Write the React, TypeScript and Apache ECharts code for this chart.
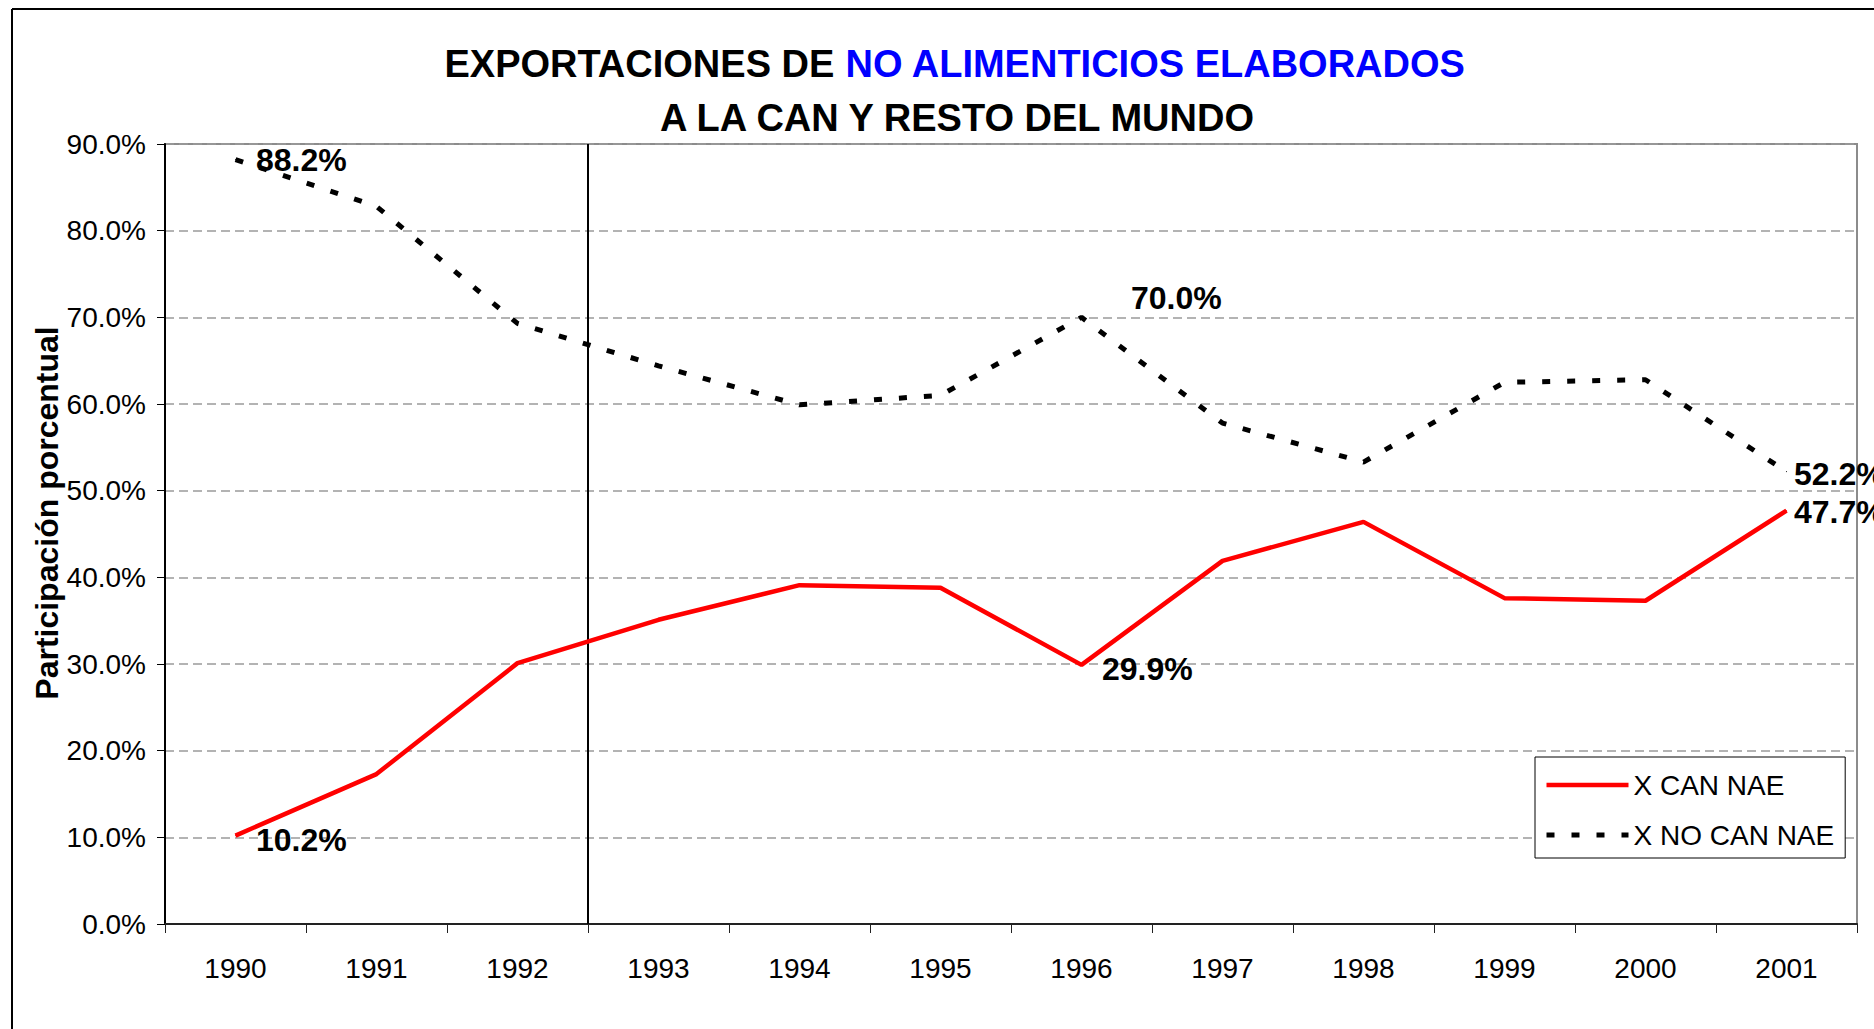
import React, { useEffect, useRef } from "react";
import * as echarts from "echarts";

const years = ["1990", "1991", "1992", "1993", "1994", "1995", "1996", "1997", "1998", "1999", "2000", "2001"];
const canNae = [10.2, 17.3, 30.1, 35.1, 39.1, 38.8, 29.9, 41.9, 46.4, 37.6, 37.3, 47.7];
const noCanNae = [88.2, 82.8, 69.3, 64.4, 59.9, 61.0, 70.0, 57.8, 53.3, 62.5, 62.8, 52.2];
const seriesNames = ["X CAN NAE", "X NO CAN NAE"];
const titleLine1a = "EXPORTACIONES DE ";
const titleLine1b = "NO ALIMENTICIOS ELABORADOS";
const titleLine2 = "A LA CAN Y RESTO DEL MUNDO";
const yAxisTitle = "Participación porcentual";
const yMin = 0;
const yMax = 90;
const yStep = 10;
// boundary (in category units) where the vertical divider is drawn: between 1992 and 1993
const dividerAt = 3;

const FONT = "'Liberation Sans', Arial, Helvetica, sans-serif";

const labelBase = {
  show: true,
  position: "right",
  fontFamily: FONT,
  fontSize: 32,
  fontWeight: "bold",
  color: "#000",
  formatter: (p: any) => Number(p.value).toFixed(1) + "%",
};

const canLabels: Record<number, any> = {
  0: { distance: 20, offset: [0, 4] },
  6: { distance: 20, offset: [0, 4] },
  11: { distance: 7, offset: [0, 1] },
};
const noCanLabels: Record<number, any> = {
  0: { distance: 20, offset: [0, 0] },
  6: { distance: 20, offset: [29, -19] },
  11: { distance: 7, offset: [0, 2] },
};

function withLabels(values: number[], labels: Record<number, any>) {
  return values.map((v, i) =>
    labels[i]
      ? { value: v, symbol: "circle", symbolSize: 1, label: { ...labelBase, ...labels[i] } }
      : { value: v }
  );
}

export default function App() {
  const ref = useRef<HTMLDivElement>(null);

  useEffect(() => {
    if (!ref.current) return;
    const chart = echarts.init(ref.current, null, { renderer: "svg" });
    const hiddenSymbol = { color: "rgba(0,0,0,0)", borderColor: "rgba(0,0,0,0)", borderWidth: 0, opacity: 0 };
    const option: any = {
      animation: false,
      backgroundColor: "#ffffff",
      textStyle: { fontFamily: FONT },
      grid: {
        left: 165,
        right: 17,
        top: 144,
        bottom: 105,
        containLabel: false,
        outerBoundsMode: "none",
        show: true,
        borderColor: "#8c8c8c",
        borderWidth: 2,
        backgroundColor: "transparent",
      },
      legend: {
        data: [
          { name: seriesNames[0], itemStyle: hiddenSymbol, lineStyle: { color: "#ff0000", width: 4.5, type: "solid" } },
          { name: seriesNames[1], itemStyle: hiddenSymbol, lineStyle: { color: "#000", width: 5, type: [8, 17] } },
        ],
        orient: "vertical",
        left: 1535,
        top: 757,
        padding: [14, 11, 9, 9],
        itemGap: 22,
        itemWidth: 82,
        itemHeight: 28,
        backgroundColor: "#ffffff",
        borderColor: "#000000",
        borderWidth: 1,
        borderRadius: 0,
        itemStyle: hiddenSymbol,
        textStyle: { fontFamily: FONT, fontSize: 28, color: "#000", lineHeight: 28 },
      },
      xAxis: [
        {
          type: "category",
          data: years,
          boundaryGap: true,
          axisLine: { show: true, lineStyle: { color: "#222", width: 2 } },
          axisTick: { show: true, alignWithLabel: false, length: 9, lineStyle: { color: "#222", width: 1 } },
          axisLabel: { fontFamily: FONT, fontSize: 28, color: "#000", margin: 30 },
          splitLine: { show: false },
        },
        {
          type: "value",
          min: 0,
          max: years.length,
          show: false,
          gridIndex: 0,
        },
      ],
      yAxis: {
        type: "value",
        min: yMin,
        max: yMax,
        interval: yStep,
        axisLine: { show: true, lineStyle: { color: "#000", width: 2 } },
        axisTick: { show: true, length: 8, lineStyle: { color: "#000", width: 1 } },
        axisLabel: {
          fontFamily: FONT,
          fontSize: 28,
          color: "#000",
          margin: 19,
          formatter: (v: number) => v.toFixed(1) + "%",
        },
        splitLine: { show: true, lineStyle: { color: "#9a9a9a", width: 1.5, type: [9, 5] } },
      },
      series: [
        {
          name: "divider",
          type: "line",
          xAxisIndex: 1,
          yAxisIndex: 0,
          data: [
            [dividerAt, yMin],
            [dividerAt, yMax],
          ],
          symbol: "none",
          silent: true,
          lineStyle: { color: "#000", width: 2 },
          z: 1,
        },
        {
          name: seriesNames[0],
          type: "line",
          data: withLabels(canNae, canLabels),
          symbol: "none",
          showSymbol: true,
          lineStyle: { color: "#ff0000", width: 4.5 },
          itemStyle: { color: "#ff0000" },
          z: 3,
        },
        {
          name: seriesNames[1],
          type: "line",
          data: withLabels(noCanNae, noCanLabels),
          symbol: "none",
          showSymbol: true,
          lineStyle: { color: "#000", width: 5, type: [8, 17], cap: "butt" },
          itemStyle: { color: "#000" },
          z: 3,
        },
      ],
      graphic: [
        {
          type: "line",
          shape: { x1: 12, y1: 9, x2: 1874, y2: 9 },
          style: { stroke: "#000", lineWidth: 2 },
        },
        {
          type: "line",
          shape: { x1: 12, y1: 9, x2: 12, y2: 1029 },
          style: { stroke: "#000", lineWidth: 2 },
        },
        {
          type: "text",
          x: 955,
          y: 64,
          style: {
            text: "{a|" + titleLine1a + "}{b|" + titleLine1b + "}",
            align: "center",
            verticalAlign: "middle",
            rich: {
              a: { fontFamily: FONT, fontSize: 38, fontWeight: "bold", fill: "#000" },
              b: { fontFamily: FONT, fontSize: 38, fontWeight: "bold", fill: "#0000ff" },
            },
          },
        },
        {
          type: "text",
          x: 957,
          y: 118,
          style: {
            text: titleLine2,
            align: "center",
            verticalAlign: "middle",
            fontFamily: FONT,
            fontSize: 38,
            fontWeight: "bold",
            fill: "#000",
          },
        },
        {
          type: "text",
          x: 47,
          y: 513,
          rotation: Math.PI / 2,
          style: {
            text: yAxisTitle,
            align: "center",
            verticalAlign: "middle",
            fontFamily: FONT,
            fontSize: 32,
            fontWeight: "bold",
            fill: "#000",
          },
        },
      ],
    };
    chart.setOption(option);
    return () => {
      chart.dispose();
    };
  }, []);

  return (
    <div
      ref={ref}
      style={{ position: "fixed", left: 0, top: 0, width: 1874, height: 1029, background: "#fff" }}
    />
  );
}
